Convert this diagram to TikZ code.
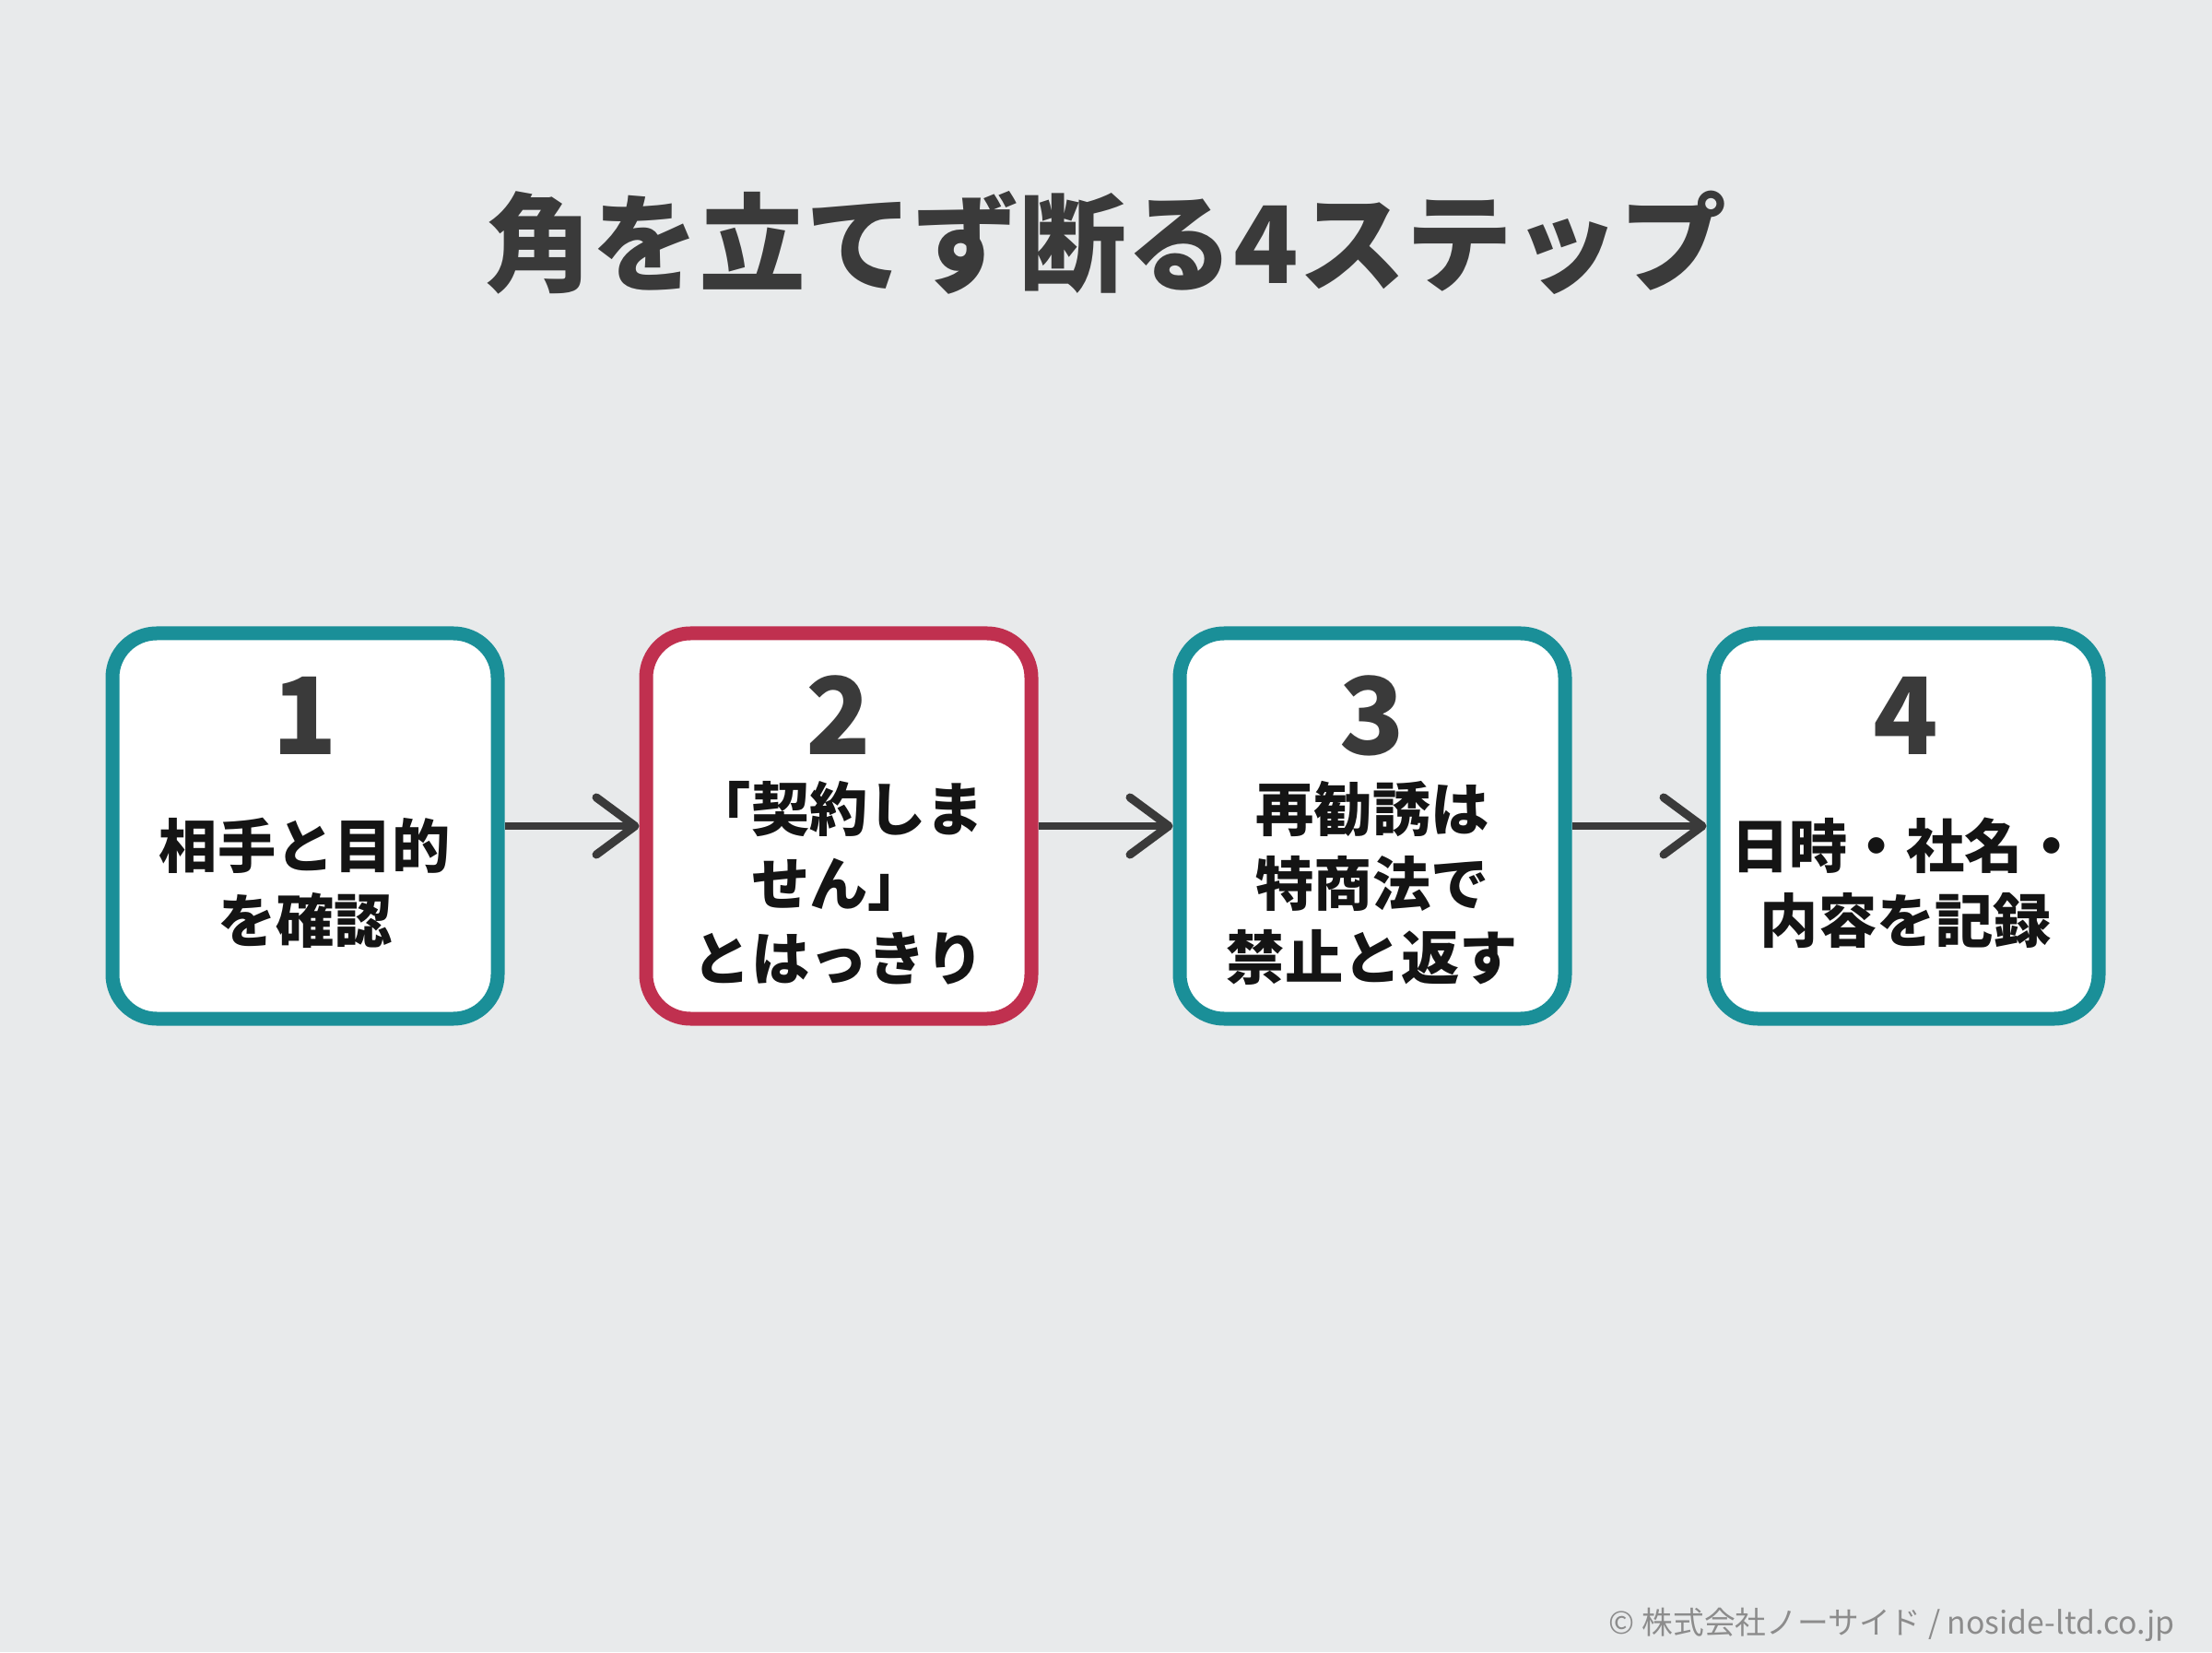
\documentclass[tikz,border=0pt]{standalone}
\usepackage{fontspec}
\setmainfont{Noto Sans CJK JP}
\usetikzlibrary{arrows.meta,positioning}
\definecolor{bgcol}{HTML}{E8EAEB}
\definecolor{tealc}{HTML}{1A8F98}
\definecolor{redc}{HTML}{C0304F}
\definecolor{ink}{HTML}{3A3A3A}
\definecolor{foot}{HTML}{8C8C8C}
\tikzset{
  stepbox/.style={draw=tealc,line width=0.15cm,rounded corners=0.48cm,fill=white,minimum width=4.18cm,minimum height=4.18cm},
  num/.style={font=\bfseries\fontsize{33}{33}\selectfont,text=ink},
  body/.style={font=\bfseries\fontsize{18}{23}\selectfont,align=center,text=black!92},
  link/.style={draw=ink,line width=0.09cm,-{Straight Barb[length=0.42cm,width=0.62cm,round]}}
}

\begin{document}
\begin{tikzpicture}
  \fill[bgcol] (0,0) rectangle (24,17.92);
  \node[font=\bfseries\fontsize{33}{33}\selectfont,text=ink] (T) at (12,15.29) {角を立てず断る4ステップ};
  \foreach \i/\c/\t in {1/tealc/{相手と目的\\を確認},2/redc/{「契約しま\\せん」\\とはっきり},3/tealc/{再勧誘は\\特商法で\\禁止と返す},4/tealc/{日時・社名・\\内容を記録}}{
    \node[stepbox,draw=\c] (s\i) at ({3.31+5.79*(\i-1)},8.96) {};
    \node[num] (n\i) at ([yshift=1.2cm]s\i.center) {\i};
    \node[body] (t\i) at ([yshift=-0.62cm]s\i.center) {\t};
  }
  \foreach \i/\j in {1/2,2/3,3/4}\draw[link] (s\i) -- (s\j);
  \node[anchor=east,inner sep=0pt,font=\fontsize{9.6}{10}\selectfont,text=foot] (F) at (23.6,0.3) {© 株式会社ノーサイド / noside-ltd.co.jp};
\end{tikzpicture}
\end{document}
